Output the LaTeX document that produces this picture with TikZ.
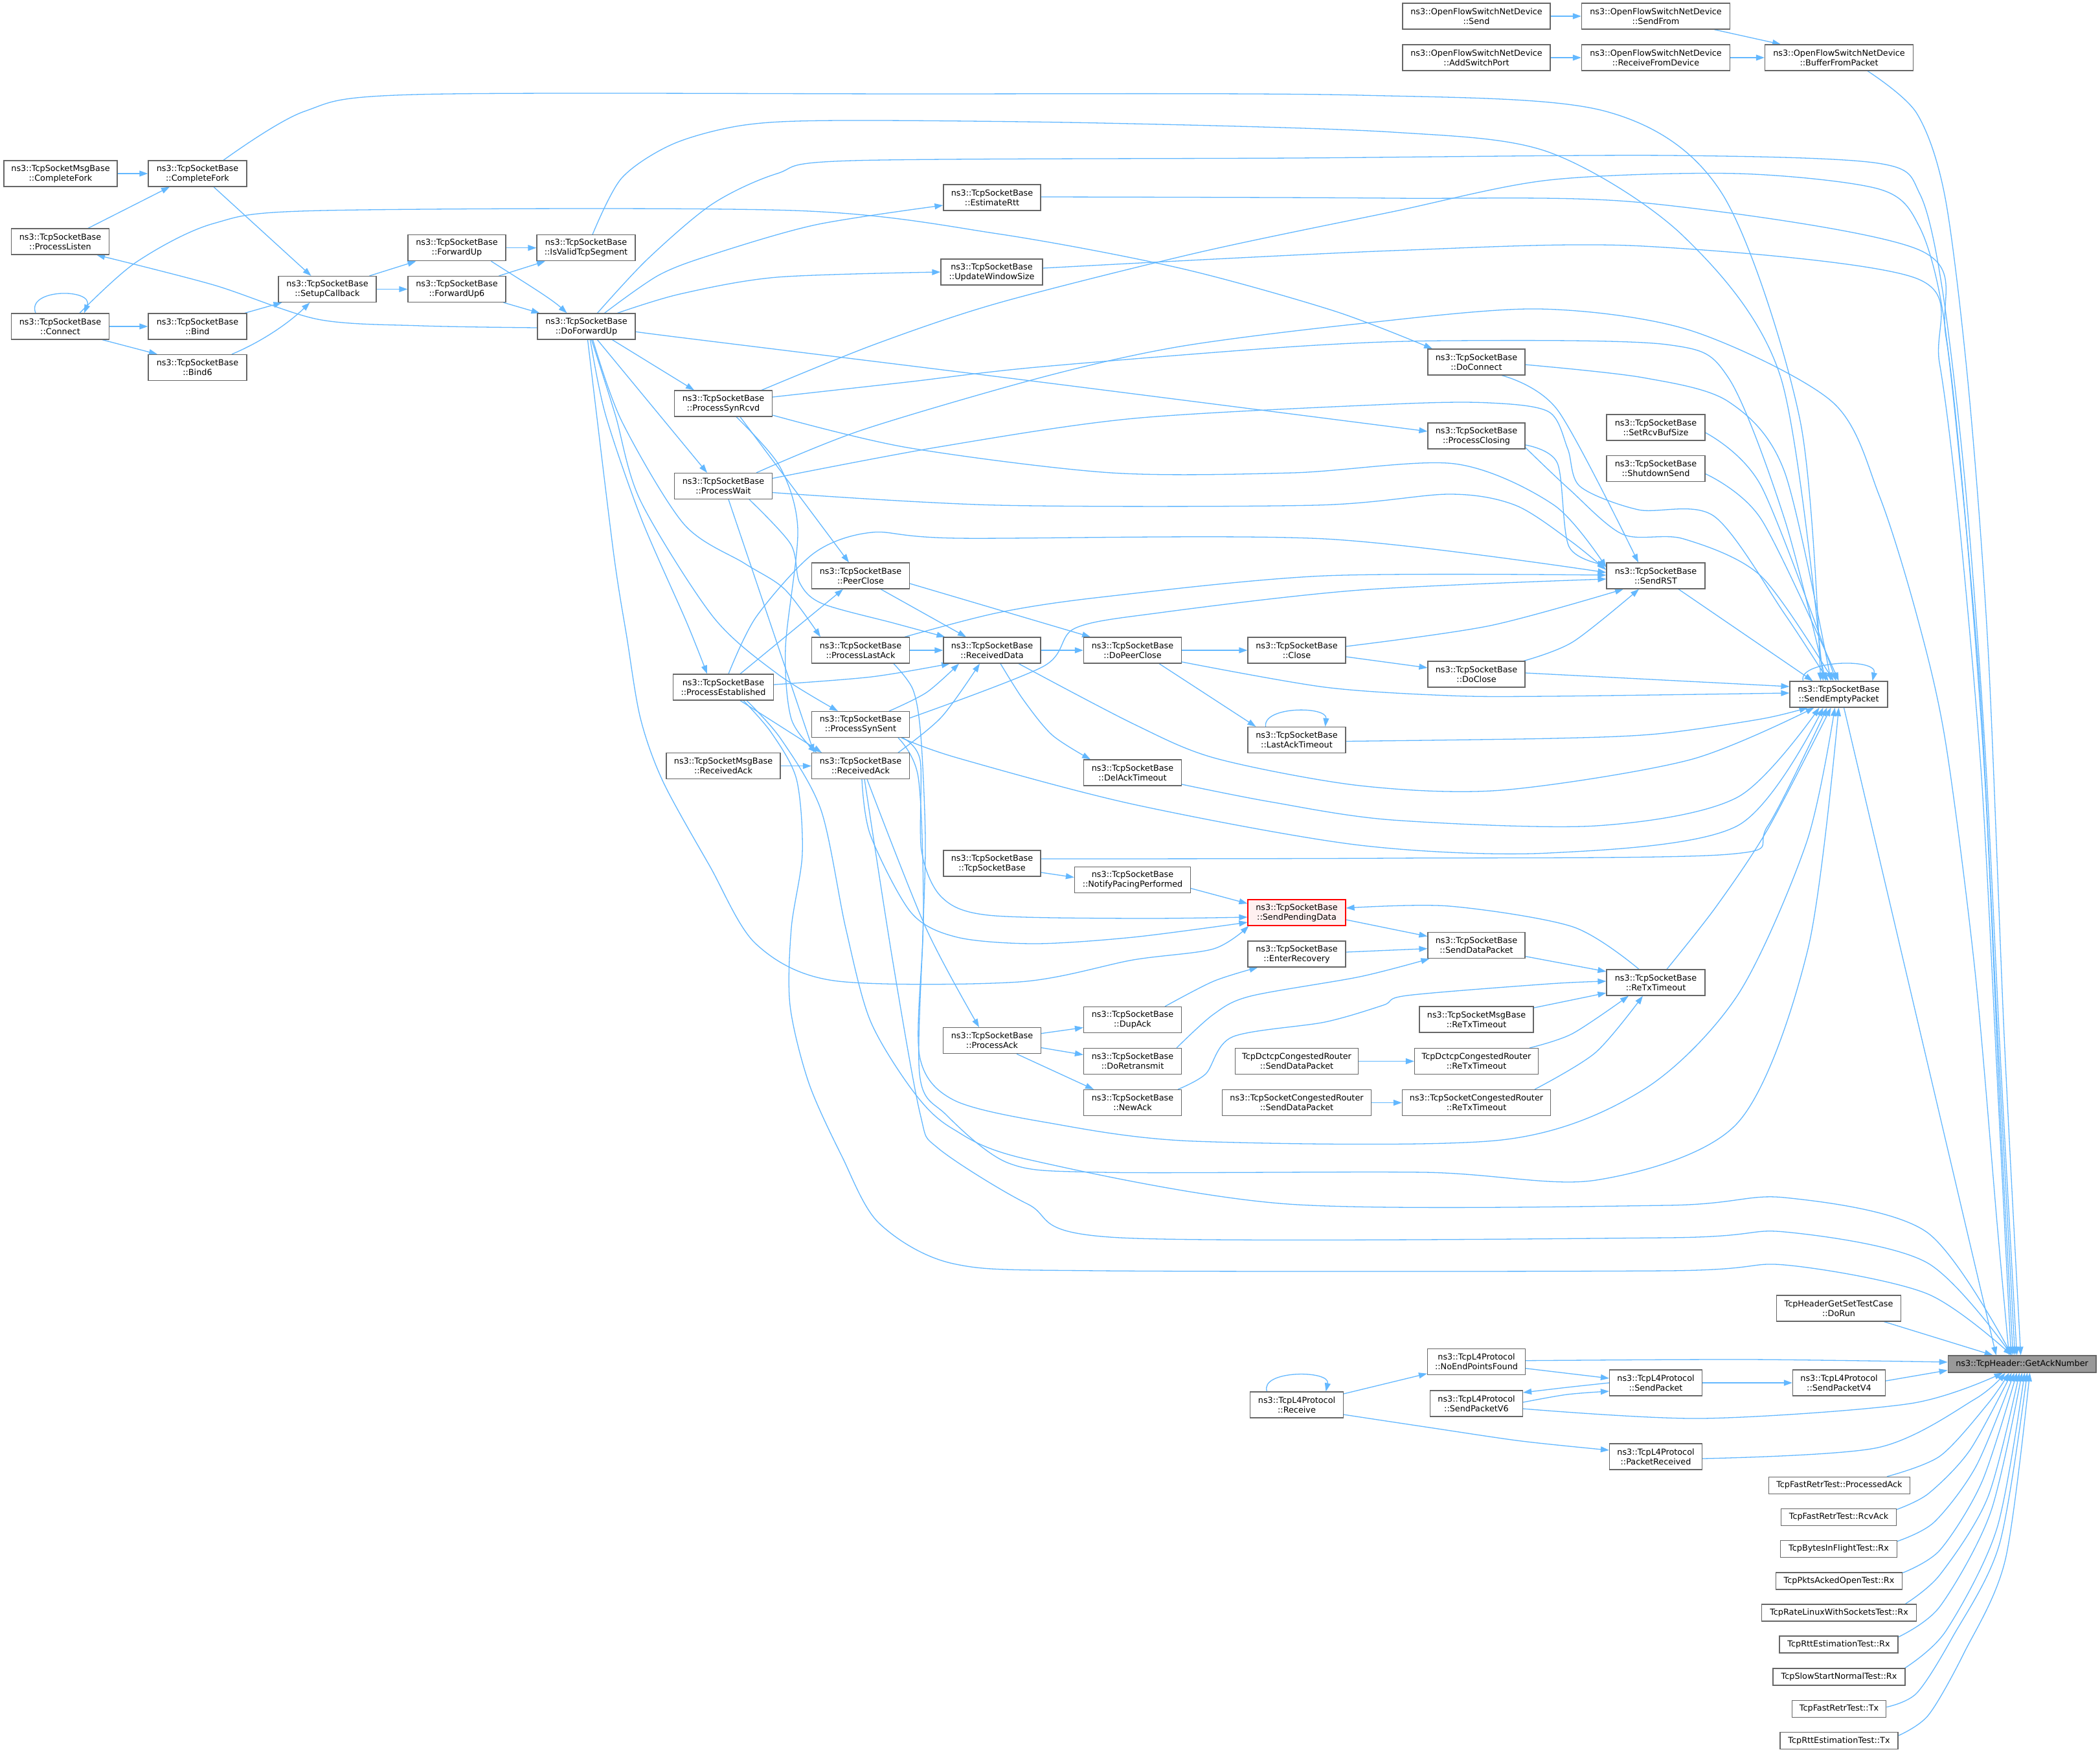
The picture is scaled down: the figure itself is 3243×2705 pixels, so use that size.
\documentclass[tikz,border=0pt]{standalone}
\usepackage{fontspec}
\setmainfont{DejaVu Sans}
\usetikzlibrary{arrows.meta,calc}
\definecolor{edgeblue}{HTML}{63B8FF}
\definecolor{nodeborder}{HTML}{666666}
\definecolor{ganfill}{HTML}{999999}
\definecolor{spdfill}{HTML}{FFF0F0}
\newcommand{\dxfont}{\fontsize{12.8pt}{15pt}\selectfont}
\pgfdeclarelayer{bg}
\pgfdeclarelayer{edges}
\pgfsetlayers{bg,edges,main}
\tikzset{
  fn/.style={draw=nodeborder, line width=1.2pt, fill=white, align=center, inner sep=0pt, minimum height=40pt, font=\dxfont, text=black},
  fn1/.style={fn, minimum height=26pt},
  e/.style={draw=edgeblue, line width=1.3pt, -{Triangle[length=13pt,width=9pt]}},
  curvy/.style={smooth, tension=0.5}
}
\begin{document}
\begin{tikzpicture}[x=1pt,y=-1pt]
\useasboundingbox (0,0) rectangle (3243,2705);
\begin{pgfonlayer}{bg}
\fill[white] (0,0) rectangle (3243,2705);
\end{pgfonlayer}
% ---------------- nodes ----------------
\node[fn, minimum width=175pt] (mCF) at (93.5,268) {ns3::TcpSocketMsgBase\\::CompleteFork};
\node[fn, minimum width=152pt] (CF) at (305,268) {ns3::TcpSocketBase\\::CompleteFork};
\node[fn, minimum width=151pt] (PL) at (93,373) {ns3::TcpSocketBase\\::ProcessListen};
\node[fn, minimum width=151pt] (Con) at (93,504) {ns3::TcpSocketBase\\::Connect};
\node[fn, minimum width=152pt] (Bind) at (305,504) {ns3::TcpSocketBase\\::Bind};
\node[fn, minimum width=152pt] (Bind6) at (305,567.5) {ns3::TcpSocketBase\\::Bind6};
\node[fn, minimum width=151pt] (SCB) at (505.5,446.5) {ns3::TcpSocketBase\\::SetupCallback};
\node[fn, minimum width=151pt] (FU) at (705.5,382.7) {ns3::TcpSocketBase\\::ForwardUp};
\node[fn, minimum width=151pt] (FU6) at (705.5,446.5) {ns3::TcpSocketBase\\::ForwardUp6};
\node[fn, minimum width=152pt] (IVS) at (905,382.7) {ns3::TcpSocketBase\\::IsValidTcpSegment};
\node[fn, minimum width=151pt] (DFU) at (905.5,504) {ns3::TcpSocketBase\\::DoForwardUp};
\node[fn, minimum width=150pt] (ER) at (1532,305) {ns3::TcpSocketBase\\::EstimateRtt};
\node[fn, minimum width=157pt] (UWS) at (1531.5,420) {ns3::TcpSocketBase\\::UpdateWindowSize};
\node[fn, minimum width=151pt] (PSR) at (1117,623) {ns3::TcpSocketBase\\::ProcessSynRcvd};
\node[fn, minimum width=151pt] (PW) at (1117,750.5) {ns3::TcpSocketBase\\::ProcessWait};
\node[fn, minimum width=155pt] (PE) at (1117,1061) {ns3::TcpSocketBase\\::ProcessEstablished};
\node[fn, minimum width=176pt] (mRA) at (1117,1182.6) {ns3::TcpSocketMsgBase\\::ReceivedAck};
\node[fn, minimum width=151pt] (PC) at (1329,889) {ns3::TcpSocketBase\\::PeerClose};
\node[fn, minimum width=151pt] (PLA) at (1329,1004) {ns3::TcpSocketBase\\::ProcessLastAck};
\node[fn, minimum width=151pt] (PSS) at (1329,1118.5) {ns3::TcpSocketBase\\::ProcessSynSent};
\node[fn, minimum width=151pt] (RA) at (1329,1182.6) {ns3::TcpSocketBase\\::ReceivedAck};
\node[fn, minimum width=150pt] (RD) at (1532,1004) {ns3::TcpSocketBase\\::ReceivedData};
\node[fn, minimum width=150pt] (TSB) at (1532,1333) {ns3::TcpSocketBase\\::TcpSocketBase};
\node[fn, minimum width=151pt] (PA) at (1532,1606.6) {ns3::TcpSocketBase\\::ProcessAck};
\node[fn, minimum width=151pt] (DPC) at (1749,1004) {ns3::TcpSocketBase\\::DoPeerClose};
\node[fn, minimum width=151pt] (DAT) at (1749,1193) {ns3::TcpSocketBase\\::DelAckTimeout};
\node[fn, minimum width=179pt] (NPP) at (1749,1358.6) {ns3::TcpSocketBase\\::NotifyPacingPerformed};
\node[fn, minimum width=151pt] (DA) at (1749,1574.5) {ns3::TcpSocketBase\\::DupAck};
\node[fn, minimum width=151pt] (DR) at (1749,1638.5) {ns3::TcpSocketBase\\::DoRetransmit};
\node[fn, minimum width=151pt] (NA) at (1749,1702.5) {ns3::TcpSocketBase\\::NewAck};
\node[fn, minimum width=151pt] (Cl) at (2002.5,1004) {ns3::TcpSocketBase\\::Close};
\node[fn, minimum width=151pt] (LAT) at (2002.5,1142.5) {ns3::TcpSocketBase\\::LastAckTimeout};
\node[fn, minimum width=151pt, draw=red, fill=spdfill] (SPD) at (2002.5,1409) {ns3::TcpSocketBase\\::SendPendingData};
\node[fn, minimum width=151pt] (ERc) at (2002.5,1473) {ns3::TcpSocketBase\\::EnterRecovery};
\node[fn, minimum width=190.5pt] (DctSDP) at (2002.5,1638.5) {TcpDctcpCongestedRouter\\::SendDataPacket};
\node[fn, minimum width=229.5pt] (SCRSDP) at (2002.5,1702.5) {ns3::TcpSocketCongestedRouter\\::SendDataPacket};
\node[fn, minimum width=143.5pt] (Recv) at (2002.5,2169) {ns3::TcpL4Protocol\\::Receive};
\node[fn, minimum width=150pt] (DoConn) at (2280,559) {ns3::TcpSocketBase\\::DoConnect};
\node[fn, minimum width=150pt] (PCl) at (2280,673) {ns3::TcpSocketBase\\::ProcessClosing};
\node[fn, minimum width=150pt] (DoCl) at (2280,1041) {ns3::TcpSocketBase\\::DoClose};
\node[fn, minimum width=150pt] (SDP) at (2280,1459.6) {ns3::TcpSocketBase\\::SendDataPacket};
\node[fn, minimum width=176pt] (mRTO) at (2280,1574) {ns3::TcpSocketMsgBase\\::ReTxTimeout};
\node[fn, minimum width=191pt] (DctRTO) at (2280,1638.5) {TcpDctcpCongestedRouter\\::ReTxTimeout};
\node[fn, minimum width=229pt] (SCRRTO) at (2280,1702.5) {ns3::TcpSocketCongestedRouter\\::ReTxTimeout};
\node[fn, minimum width=151pt] (NEPF) at (2280,2102.7) {ns3::TcpL4Protocol\\::NoEndPointsFound};
\node[fn, minimum width=143pt] (SPV6) at (2280,2167) {ns3::TcpL4Protocol\\::SendPacketV6};
\node[fn, minimum width=228pt] (OFS) at (2280,25) {ns3::OpenFlowSwitchNetDevice\\::Send};
\node[fn, minimum width=228pt] (OFA) at (2280,89) {ns3::OpenFlowSwitchNetDevice\\::AddSwitchPort};
\node[fn, minimum width=229pt] (OFSF) at (2557,25) {ns3::OpenFlowSwitchNetDevice\\::SendFrom};
\node[fn, minimum width=229pt] (OFRD) at (2557,89) {ns3::OpenFlowSwitchNetDevice\\::ReceiveFromDevice};
\node[fn, minimum width=229pt] (BFP) at (2840,89) {ns3::OpenFlowSwitchNetDevice\\::BufferFromPacket};
\node[fn, minimum width=152pt] (SRBS) at (2557,660) {ns3::TcpSocketBase\\::SetRcvBufSize};
\node[fn, minimum width=152pt] (SDS) at (2557,723.5) {ns3::TcpSocketBase\\::ShutdownSend};
\node[fn, minimum width=152pt] (RST) at (2557,889) {ns3::TcpSocketBase\\::SendRST};
\node[fn, minimum width=152pt] (RTO) at (2557,1517) {ns3::TcpSocketBase\\::ReTxTimeout};
\node[fn, minimum width=143pt] (SP) at (2557,2135) {ns3::TcpL4Protocol\\::SendPacket};
\node[fn, minimum width=143pt] (PR) at (2557,2249) {ns3::TcpL4Protocol\\::PacketReceived};
\node[fn, minimum width=151pt] (SEP) at (2839.5,1072) {ns3::TcpSocketBase\\::SendEmptyPacket};
\node[fn, minimum width=191.5pt] (DoRun) at (2839.5,2020) {TcpHeaderGetSetTestCase\\::DoRun};
\node[fn, minimum width=143pt] (SPV4) at (2840,2135) {ns3::TcpL4Protocol\\::SendPacketV4};
\node[fn1, minimum width=218pt] (FRPA) at (2840.4,2293.3) {TcpFastRetrTest::ProcessedAck};
\node[fn1, minimum width=177.6pt] (FRRA) at (2839.5,2342.2) {TcpFastRetrTest::RcvAck};
\node[fn1, minimum width=179.5pt] (BIF) at (2839.5,2391.3) {TcpBytesInFlightTest::Rx};
\node[fn1, minimum width=195pt] (PAO) at (2840,2441) {TcpPktsAckedOpenTest::Rx};
\node[fn1, minimum width=239.3pt] (RLWS) at (2840,2490) {TcpRateLinuxWithSocketsTest::Rx};
\node[fn1, minimum width=183pt] (RER) at (2839.5,2539) {TcpRttEstimationTest::Rx};
\node[fn1, minimum width=204pt] (SSN) at (2840,2589) {TcpSlowStartNormalTest::Rx};
\node[fn1, minimum width=145.6pt] (FRT) at (2840,2638.6) {TcpFastRetrTest::Tx};
\node[fn1, minimum width=182pt] (RET) at (2840,2687.7) {TcpRttEstimationTest::Tx};
\node[fn1, minimum width=228.7pt, fill=ganfill] (GAN) at (3122.6,2106) {ns3::TcpHeader::GetAckNumber};
% ---------------- edges ----------------
\begin{pgfonlayer}{edges}
% left cluster
\draw[e] (mCF) -- (CF);
\draw[e] ($(PL.north)+(43,0)$) -- ($(CF.south)+(-43,0)$);
\draw[e] ($(CF.south)+(25,0)$) -- ($(SCB.north)+(-25,0)$);
\draw[e] plot[curvy] coordinates {($(CF.north)+(40,0)$) (470,172) (640,146) (1400,145) (2100,147) (2480,172) (2660,300) (2780,650) ($(SEP.north)+(-28,0)$)};
\draw[e] plot[curvy] coordinates {($(IVS.north)+(10,0)$) (960,275) (1040,222) (1150,193) (1300,186) (1700,190) (2150,204) (2392,235) (2600,365) (2750,583) ($(SEP.north)+(-24,0)$)};
\draw[e] plot[curvy] coordinates {($(DFU.north)+(17,0)$) (1000,400) (1100,315) (1200,268) (1317,248) (2000,244) (2574,240) (2900,252) (2965,300) (3000,450) (3035,750) (3065,1150) (3090,1650) ($(GAN.north)+(-8,0)$)};
\draw[e] plot[curvy] coordinates {($(DFU.west)+(0,2)$) (650,503) (491,493) (330,440) ($(PL.south east)+(-20,0)$)};
\draw[e] ($(Con.north)+(-38,0)$) .. controls (40,445) and (145,445) .. ($(Con.north)+(37,0)$);
\draw[e] (Con) -- (Bind);
\draw[e] ($(Con.south)+(65,0)$) -- ($(Bind6.north)+(-62,0)$);
\draw[e] ($(Bind.north)+(73,0)$) -- ($(SCB.south)+(-70,0)$);
\draw[e] ($(Bind6.north)+(53,0)$) .. controls (410,525) and (450,495) .. ($(SCB.south)+(-27,0)$);
\draw[e] ($(SCB.north)+(65,0)$) -- ($(FU.south)+(-63,0)$);
\draw[e] (SCB) -- (FU6);
\draw[e] (FU) -- (IVS);
\draw[e] ($(FU6.north)+(65,0)$) -- ($(IVS.south)+(-63,0)$);
\draw[e] ($(FU.south)+(53,0)$) .. controls (800,430) and (850,460) .. ($(DFU.north)+(-30,0)$);
\draw[e] ($(FU6.south)+(72,0)$) -- ($(DFU.north)+(-72,0)$);
\draw[e] plot[curvy] coordinates {($(Con.north)+(30,0)$) (210,405) (330,345) (500,325) (1225,325) (1541,361) (1822,414) (2060,480) ($(DoConn.north)+(-68,0)$)};
% DoForwardUp
\draw[e] plot[curvy] coordinates {($(DFU.north)+(28,0)$) (1017,425) (1100,393) (1260,347) ($(ER.west)+(0,12)$)};
\draw[e] plot[curvy] coordinates {($(DFU.north)+(48,0)$) (1050,454) (1200,428) (UWS.west)};
\draw[e] ($(DFU.south)+(40,0)$) -- ($(PSR.north)+(-45,0)$);
\draw[e] ($(DFU.south)+(17,0)$) -- ($(PW.north)+(-25,0)$);
\draw[e] plot[curvy] coordinates {($(DFU.south)+(6,0)$) (935,640) (990,800) (1060,960) ($(PE.north)+(-25,0)$)};
\draw[e] plot[curvy] coordinates {($(DFU.south)+(10,0)$) (960,650) (1056,809) (1150,870) (1212,910) ($(PLA.north)+(-62,0)$)};
\draw[e] plot[curvy] coordinates {($(DFU.south)+(8,0)$) (950,640) (989,773) (1101,952) (1200,1040) ($(PSS.north)+(-35,0)$)};
\draw[e] plot[curvy] coordinates {($(DFU.south)+(2,0)$) (947,850) (968,984) (989,1109) (1024,1207) (1096,1337) (1167,1457) (1287,1514) (1574,1516) (1750,1482) (1874,1465) ($(SPD.south west)+(2,0)$)};
\draw[e] plot[curvy] coordinates {($(DFU.east)+(0,8)$) (1050,521) (1600,589) ($(PCl.west)+(0,-7)$)};
% ProcessSynRcvd
\draw[e] plot[curvy] coordinates {($(PSR.north)+(59,0)$) (1350,532) (1541,468) (1850,390) (2150,327) (2392,278) (2683,268) (2902,292) (2964,350) (3000,480) (3030,750) (3060,1100) (3085,1600) ($(GAN.north)+(-11,0)$)};
\draw[e] plot[curvy] coordinates {($(PSR.east)+(0,-10)$) (1400,590) (1600,567) (2000,535) (2238,526) (2574,532) (2669,583) (2756,802) ($(SEP.north)+(-20,0)$)};
\draw[e] plot[curvy] coordinates {($(PSR.east)+(0,18)$) (1401,691) (1716,730) (1997,730) (2246,716) (2400,780) ($(RST.west)+(0,-13)$)};
\draw[e] ($(PSR.south)+(26,0)$) -- ($(PC.north)+(-18,0)$);
\draw[e] plot[curvy] coordinates {($(PSR.south)+(20,0)$) (1204,720) (1232,818) (1213,1000) (1222,1110) ($(RA.north)+(-68,0)$)};
% ProcessWait
\draw[e] plot[curvy] coordinates {($(PW.north)+(51,0)$) (1331,664) (1611,582) (1822,535) (2097,500) (2377,477) (2610,510) (2829,620) (2902,765) (2960,950) (3004,1143) (3050,1500) (3085,1900) ($(GAN.north)+(-20,0)$)};
\draw[e] plot[curvy] coordinates {($(PW.east)+(0,-12)$) (1450,690) (1751,646) (2150,624) (2300,622) (2392,636) (2421,693) (2440,751) (2530,787) (2647,797) (2756,948) ($(SEP.north)+(-16,0)$)};
\draw[e] plot[curvy] coordinates {($(PW.east)+(0,10)$) (1541,780) (2032,780) (2238,763) (2340,780) (2425,835) ($(RST.west)+(0,-9)$)};
\draw[e] ($(PW.south)+(8,0)$) -- ($(RA.north)+(-72,0)$);
\draw[e] plot[curvy] coordinates {($(PW.south)+(40,0)$) (1221,840) (1235,900) (1270,932) (1380,962) ($(RD.north west)+(3,0)$)};
% ProcessEstablished
\draw[e] ($(PE.north)+(26,0)$) -- ($(PC.south)+(-27,0)$);
\draw[e] plot[curvy] coordinates {($(PE.north)+(8,0)$) (1168,952) (1257,854) (1346,822) (1480,831) (2046,832) ($(RST.west)+(0,-5)$)};
\draw[e] plot[curvy] coordinates {($(PE.east)+(0,-4)$) (1346,1045) ($(RD.south)+(-65,0)$)};
\draw[e] ($(PE.south)+(26,0)$) -- ($(RA.north)+(-60,0)$);
\draw[e] plot[curvy] coordinates {($(PE.south)+(31,0)$) (1191,1131) (1230,1203) (1239,1318) (1222,1433) (1220,1552) (1249,1672) (1300,1785) (1357,1888) (1472,1951) (1700,1962) (2574,1962) (2756,1953) (2975,1997) ($(GAN.north)+(-16,0)$)};
\draw[e] plot[curvy] coordinates {($(PE.south)+(36,0)$) (1206,1141) (1268,1251) (1306,1433) (1344,1576) (1411,1686) (1470,1742) (1587,1790) (1989,1859) (2574,1861) (2756,1849) (2975,1902) ($(GAN.north)+(-16,0)$)};
% PeerClose, ProcessLastAck
\draw[e] ($(PC.south)+(31,0)$) -- ($(RD.north)+(-40,0)$);
\draw[e] ($(PC.east)+(0,12)$) -- ($(DPC.north)+(-65,0)$);
\draw[e] (PLA) -- (RD);
\draw[e] plot[curvy] coordinates {($(PLA.north)+(68,0)$) (1541,946) (1700,922) (2046,889) ($(RST.west)+(0,-1)$)};
\draw[e] plot[curvy] coordinates {($(PLA.south)+(51,0)$) (1410,1065) (1422,1136) (1429,1296) (1425,1450) (1420,1630) (1472,1698) (1616,1733) (1845,1762) (2319,1760) (2537,1683) (2683,1537) (2790,1300) ($(SEP.south)+(-6,0)$)};
% ProcessSynSent
\draw[e] plot[curvy] coordinates {($(PSS.north)+(44,0)$) (1431,1069) ($(RD.south)+(-51,0)$)};
\draw[e] plot[curvy] coordinates {($(PSS.east)+(0,-10)$) (1611,1029) (1660,970) (1791,946) (2100,911) ($(RST.west)+(0,5)$)};
\draw[e] plot[curvy] coordinates {($(PSS.south)+(63,0)$) (1478,1170) (1751,1242) (2100,1305) (2392,1317) (2683,1275) ($(SEP.south)+(-24,0)$)};
\draw[e] plot[curvy] coordinates {($(PSS.south)+(65,0)$) (1421,1174) (1423,1313) (1454,1385) (1526,1413) (1750,1418) ($(SPD.west)+(0,7)$)};
\draw[e] plot[curvy] coordinates {($(PSS.south)+(58,0)$) (1418,1200) (1426,1400) (1420,1658) (1461,1721) (1558,1796) (1702,1810) (2200,1810) (2465,1822) (2683,1734) (2792,1465) (SEP.south)};
% ReceivedAck
\draw[e] (mRA) -- (RA);
\draw[e] plot[curvy] coordinates {($(RA.north)+(58,0)$) (1454,1107) ($(RD.south)+(-19,0)$)};
\draw[e] plot[curvy] coordinates {($(RA.south)+(10,0)$) (1430,1433) ($(PA.north)+(-20,0)$)};
\draw[e] plot[curvy] coordinates {($(RA.south)+(2,0)$) (1344,1289) (1407,1409) (1478,1447) (1598,1457) (1750,1447) ($(SPD.west)+(0,15)$)};
\draw[e] plot[curvy] coordinates {($(RA.south)+(6,0)$) (1378,1480) (1421,1720) (1449,1773) (1587,1859) (1730,1911) (2574,1911) (2756,1902) (2975,1949) ($(GAN.north)+(-16,0)$)};
% ReceivedData, DoPeerClose, Close
\draw[e] (RD) -- (DPC);
\draw[e] plot[curvy] coordinates {($(RD.south)+(13,0)$) (1580,1080) (1625,1135) ($(DAT.north)+(-65,0)$)};
\draw[e] plot[curvy] coordinates {($(RD.south)+(41,0)$) (1751,1118) (1878,1171) (2100,1213) (2319,1220) (2610,1173) ($(SEP.south)+(-38,0)$)};
\draw[e] (DPC) -- (Cl);
\draw[e] ($(DPC.south)+(41,0)$) -- ($(LAT.north)+(-63,0)$);
\draw[e] plot[curvy] coordinates {($(DPC.east)+(0,18)$) (2046,1061) (2238,1074) (2392,1075) ($(SEP.west)+(0,-2)$)};
\draw[e] plot[curvy] coordinates {($(Cl.east)+(0,-6)$) (2301,966) ($(RST.south)+(-50,0)$)};
\draw[e] ($(Cl.east)+(0,10)$) -- ($(DoCl.west)+(0,-10)$);
\draw[e] plot[curvy] coordinates {($(DoCl.north)+(73,0)$) (2429,991) ($(RST.south)+(-26,0)$)};
\draw[e] ($(DoCl.east)+(0,-2)$) -- ($(SEP.west)+(0,-12)$);
\draw[e] ($(LAT.north)+(-48,0)$) .. controls (1950,1090) and (2050,1090) .. ($(LAT.north)+(44,0)$);
\draw[e] plot[curvy] coordinates {($(LAT.east)+(0,2)$) (2400,1140) (2560,1133) (2720,1110) ($(SEP.south)+(-48,0)$)};
\draw[e] plot[curvy] coordinates {($(DAT.east)+(0,18)$) (1962,1238) (2150,1266) (2465,1275) (2683,1231) ($(SEP.south)+(-30,0)$)};
\draw[e] plot[curvy] coordinates {($(TSB.east)+(0,-7)$) (2150,1325) (2669,1319) (2730,1275) ($(SEP.south)+(-18,0)$)};
\draw[e] ($(TSB.east)+(0,14)$) -- ($(NPP.west)+(0,-4)$);
\draw[e] ($(NPP.east)+(0,13)$) -- ($(SPD.west)+(0,-14)$);
% send pending data / retransmission
\draw[e] ($(SPD.east)+(0,11)$) -- ($(SDP.west)+(0,-14)$);
\draw[e] ($(ERc.east)+(0,-3)$) -- ($(SDP.west)+(0,5)$);
\draw[e] plot[curvy] coordinates {($(DA.north)+(50,0)$) (1874,1515) ($(ERc.south)+(-60,0)$)};
\draw[e] ($(PA.east)+(0,-11)$) -- ($(DA.west)+(0,12)$);
\draw[e] ($(PA.east)+(0,11)$) -- ($(DR.west)+(0,-10)$);
\draw[e] ($(PA.south)+(38,0)$) -- ($(NA.north)+(-60,0)$);
\draw[e] plot[curvy] coordinates {($(DR.north)+(68,0)$) (1874,1566) (1931,1538) (2100,1508) ($(SDP.south west)+(3,0)$)};
\draw[e] plot[curvy] coordinates {($(NA.north)+(70,0)$) (1862,1658) (1903,1601) (2046,1578) (2136,1552) (2173,1537) (2392,1519) ($(RTO.west)+(0,-2)$)};
\draw[e] (DctSDP) -- (DctRTO);
\draw[e] (SCRSDP) -- (SCRRTO);
\draw[e] ($(SDP.east)+(0,17)$) -- ($(RTO.west)+(0,-17)$);
\draw[e] ($(mRTO.east)+(0,-18)$) -- ($(RTO.west)+(0,16)$);
\draw[e] plot[curvy] coordinates {($(DctRTO.north)+(82,0)$) (2428,1596) ($(RTO.south)+(-42,0)$)};
\draw[e] plot[curvy] coordinates {($(SCRRTO.north)+(90,0)$) (2464,1625) ($(RTO.south)+(-20,0)$)};
\draw[e] plot[curvy] coordinates {($(RTO.north)+(-26,0)$) (2429,1431) (2238,1399) ($(SPD.east)+(0,-7)$)};
\draw[e] plot[curvy] coordinates {($(RTO.north)+(17,0)$) (2650,1400) (2730,1280) ($(SEP.south)+(-12,0)$)};
% top right
\draw[e] (OFS) -- (OFSF);
\draw[e] (OFA) -- (OFRD);
\draw[e] (OFRD) -- (BFP);
\draw[e] ($(OFSF.south)+(90,0)$) -- ($(BFP.north)+(-90,0)$);
\draw[e] plot[curvy] coordinates {($(BFP.south)+(44,0)$) (2960,175) (3004,306) (3040,600) (3070,1000) (3095,1600) ($(GAN.north)+(-2,0)$)};
\draw[e] plot[curvy] coordinates {($(ER.east)+(0,-1)$) (2150,306) (2537,313) (2964,386) (3005,520) (3035,800) (3065,1200) (3088,1700) ($(GAN.north)+(-14,0)$)};
\draw[e] plot[curvy] coordinates {($(UWS.east)+(0,-6)$) (2150,387) (2537,380) (2960,430) (2995,560) (3025,800) (3060,1200) (3086,1700) ($(GAN.north)+(-17,0)$)};
% right column
\draw[e] plot[curvy] coordinates {($(DoConn.south)+(39,0)$) (2406,634) ($(RST.north)+(-27,0)$)};
\draw[e] plot[curvy] coordinates {($(DoConn.east)+(0,4)$) (2537,583) (2669,620) (2756,729) ($(SEP.north)+(-12,0)$)};
\draw[e] plot[curvy] coordinates {($(PCl.east)+(0,14)$) (2405,715) (2423,844) ($(RST.west)+(0,-17)$)};
\draw[e] plot[curvy] coordinates {($(PCl.east)+(0,18)$) (2423,755) (2506,825) (2600,832) (2720,890) ($(SEP.north)+(-8,0)$)};
\draw[e] plot[curvy] coordinates {($(SRBS.east)+(0,8)$) (2720,751) ($(SEP.north)+(-4,0)$)};
\draw[e] plot[curvy] coordinates {($(SDS.east)+(0,8)$) (2720,802) (SEP.north)};
\draw[e] ($(RST.south)+(35,0)$) -- ($(SEP.north)+(-40,0)$);
\draw[e] ($(SEP.north)+(-55,0)$) .. controls (2775,1020) and (2900,1015) .. ($(SEP.north)+(52,0)$);
\draw[e] ($(SEP.south)+(8,0)$) -- ($(GAN.north)+(-40,0)$);
% bottom
\draw[e] ($(Recv.north)+(-46,0)$) .. controls (1945,2115) and (2055,2115) .. ($(Recv.north)+(45,0)$);
\draw[e] ($(Recv.east)+(0,-17)$) -- ($(NEPF.west)+(0,18)$);
\draw[e] plot[curvy] coordinates {($(Recv.east)+(0,15)$) (2214,2205) (2350,2225) ($(PR.west)+(0,-10)$)};
\draw[e] plot[curvy] coordinates {($(NEPF.east)+(0,-2)$) (2700,2099) ($(GAN.west)+(0,-3)$)};
\draw[e] ($(NEPF.east)+(0,10)$) -- ($(SP.west)+(0,-7)$);
\draw[e] plot[curvy] coordinates {(SP.west) (2420,2142) ($(SPV6.east)+(0,-17)$)};
\draw[e] plot[curvy] coordinates {($(SPV6.east)+(0,-2)$) (2420,2153) ($(SP.west)+(0,13)$)};
\draw[e] (SP) -- (SPV4);
\draw[e] ($(SPV4.east)+(0,-3)$) -- ($(GAN.south west)+(0,-4)$);
\draw[e] plot[curvy] coordinates {($(SPV6.east)+(0,8)$) (2628,2190) (2950,2167) ($(GAN.south)+(-30,0)$)};
\draw[e] plot[curvy] coordinates {($(PR.east)+(0,3)$) (2900,2235) (3050,2160) ($(GAN.south)+(-26,0)$)};
\draw[e] ($(DoRun.south)+(70,0)$) -- ($(GAN.north)+(-45,0)$);
\draw[e] plot[curvy] coordinates {($(FRPA.north east)+(-36,0)$) (2996,2248) (3070,2167) ($(GAN.south)+(-20,0)$)};
\draw[e] plot[curvy] coordinates {($(FRRA.north east)+(0,2)$) (2978,2306) (3042,2239) ($(GAN.south)+(-16,0)$)};
\draw[e] plot[curvy] coordinates {($(BIF.north east)+(0,2)$) (2987,2350) (3052,2263) ($(GAN.south)+(-12,0)$)};
\draw[e] plot[curvy] coordinates {($(PAO.north east)+(0,1)$) (2996,2393) (3061,2287) ($(GAN.south)+(-8,0)$)};
\draw[e] plot[curvy] coordinates {($(RLWS.north east)+(-18,0)$) (2996,2431) (3070,2311) ($(GAN.south)+(-4,0)$)};
\draw[e] plot[curvy] coordinates {($(RER.north east)+(0,2)$) (2996,2480) (3074,2335) (GAN.south)};
\draw[e] plot[curvy] coordinates {($(SSN.north east)+(-1,0)$) (3005,2518) (3084,2359) ($(GAN.south)+(4,0)$)};
\draw[e] plot[curvy] coordinates {($(FRT.east)+(0,-3)$) (2960,2614) (3015,2528) (3088,2383) ($(GAN.south)+(8,0)$)};
\draw[e] plot[curvy] coordinates {($(RET.east)+(0,-8)$) (2978,2648) (3033,2552) (3097,2407) ($(GAN.south)+(12,0)$)};
\end{pgfonlayer}
\end{tikzpicture}
\end{document}
